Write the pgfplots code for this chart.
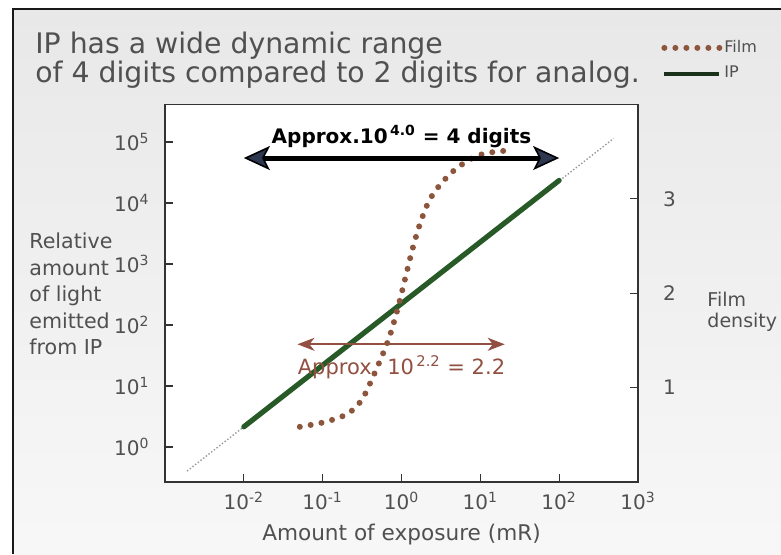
\documentclass[border=0pt]{standalone}
\usepackage{fontspec}
\setmainfont{DejaVu Sans}
\usepackage{pgfplots}
\pgfplotsset{compat=1.18}
\usetikzlibrary{arrows.meta}
\definecolor{ipgreen}{RGB}{40,90,40}
\definecolor{ipleg}{RGB}{25,50,25}
\definecolor{filmbrown}{RGB}{140,85,60}
\definecolor{arrbrown}{RGB}{145,80,65}
\definecolor{txtgray}{RGB}{80,80,80}
\definecolor{headfill}{RGB}{45,55,80}
\begin{document}
\begin{tikzpicture}
\useasboundingbox (0pt,0pt) rectangle (390.5pt,277pt);
\fill[white] (0pt,0pt) rectangle (390.5pt,277pt);
\shade[top color=black!9, bottom color=black!3] (6.5pt,0pt) rectangle (390.5pt,272.5pt);
\draw[black!90, line width=1.2pt] (6.5pt,0pt) -- (6.5pt,272.5pt) -- (390.5pt,272.5pt);
\node[anchor=base west, inner sep=0pt, text=txtgray, font=\fontsize{14.15}{14.5}\selectfont] at (17.5pt,250.5pt) {IP has a wide dynamic range};
\node[anchor=base west, inner sep=0pt, text=txtgray, font=\fontsize{14.15}{14.5}\selectfont] at (17.5pt,236pt) {of 4 digits compared to 2 digits for analog.};

\begin{axis}[
  at={(82.5pt,36pt)}, anchor=south west, scale only axis,
  width=236.5pt, height=188.75pt,
  xmode=log, ymode=log,
  xmin=1e-3, xmax=1e3, ymin=0.266, ymax=412000,
  axis background/.style={fill=white},
  axis line style={black!80, line width=0.75pt},
  tick style={black!80, line width=0.6pt},
  major tick length=4pt, minor tick length=0pt,
  tick align=inside,
  xtick pos=left, ytick pos=left,
  xtick={1e-2,1e-1,1,1e1,1e2,1e3},
  xticklabels={10\textsuperscript{-2},10\textsuperscript{-1},10\textsuperscript{0},10\textsuperscript{1},10\textsuperscript{2},10\textsuperscript{3}},
  ytick={1,10,100,1e3,1e4,1e5},
  yticklabels={10\textsuperscript{0},10\textsuperscript{1},10\textsuperscript{2},10\textsuperscript{3},10\textsuperscript{4},10\textsuperscript{5}},
  ticklabel style={text=txtgray, font=\fontsize{10}{12}\selectfont},
  yticklabel style={xshift=-4.2pt},
  xticklabel style={yshift=-1.5pt},
  xlabel={Amount of exposure (mR)},
  xlabel style={at={(axis description cs:0.5,0)}, anchor=base, yshift=-29pt, text=txtgray, font=\fontsize{10.8}{12}\selectfont, inner sep=0pt},
  ylabel={Relative\\amount\\of light\\emitted\\from IP},
  ylabel style={rotate=-90, at={(axis description cs:-0.2875,0.66)}, anchor=north west, align=left, inner sep=0pt, text=txtgray, font=\fontsize{10.3}{13.25}\selectfont},
]
\addplot[gray!80, densely dotted, line width=0.7pt] coordinates {(0.001905,0.402) (489.8,114000)};
\addplot[ipgreen, line width=2.6pt, line cap=round] coordinates {(0.01,2.138) (100,23442)};
\addplot[arrbrown, line width=1pt, {Stealth[length=8.5pt,width=6.5pt,inset=2.5pt]}-{Stealth[length=8.5pt,width=6.5pt,inset=2.5pt]}] coordinates {(0.0479,48.2) (20.4,48.2)};
\node[anchor=base, text=arrbrown, font=\fontsize{10.5}{12}\selectfont] at (axis cs:1,15.7) {Approx. 10\textsuperscript{\,2.2} = 2.2};
\end{axis}

\begin{axis}[
  at={(82.5pt,36pt)}, anchor=south west, scale only axis,
  width=236.5pt, height=188.75pt,
  xmode=log, xmin=1e-3, xmax=1e3, ymin=0, ymax=4,
  hide x axis,
  axis line style={black!80, line width=0.75pt},
  tick style={black!80, line width=0.6pt},
  major tick length=4pt, tick align=inside,
  ytick={1,2,3}, yticklabels={1,2,3}, ytick pos=right, yticklabel pos=right,
  ticklabel style={text=txtgray, font=\fontsize{10}{12}\selectfont},
  yticklabel style={xshift=9pt},
  ylabel={Film\\density},
  ylabel style={rotate=-90, at={(axis description cs:1.146,0.505)}, anchor=north west, align=left, inner sep=0pt, text=txtgray, font=\fontsize{9.5}{10.5}\selectfont},
  legend style={at={(axis description cs:1.0486,1.1764)}, anchor=north west, draw=none, fill=none, inner sep=0pt, row sep=3.4pt, nodes={inner sep=1pt, text=txtgray}, font=\fontsize{8}{9}\selectfont},
  legend cell align=left,
  legend image code/.code={\draw[#1] (0pt,0pt) -- (27.5pt,0pt);},
]
\addplot[filmbrown, line width=3pt, line cap=round, dash pattern=on 0pt off 5.5pt, smooth] coordinates {
(0.0513,0.585) (0.1,0.63) (0.182,0.70) (0.263,0.79) (0.339,0.92) (0.417,1.08)
(0.537,1.29) (0.692,1.52) (0.871,1.80) (1.072,2.10) (1.380,2.47) (1.738,2.75)
(2.239,2.98) (3.02,3.14) (4.467,3.29) (7.079,3.41) (11.22,3.48) (20.42,3.51)};
\addlegendentry{Film}
\addlegendimage{ipleg, line width=2pt}
\addlegendentry{IP}
\addplot[forget plot, black, line width=2.5pt, {Stealth[length=13pt,width=12pt,inset=3pt,fill=headfill,line width=0.8pt]}-{Stealth[length=13pt,width=12pt,inset=3pt,fill=headfill,line width=0.8pt]}] coordinates {(0.01,3.433) (100,3.433)};
\node[anchor=base, font=\bfseries\fontsize{10}{12}\selectfont] at (axis cs:1,3.592) {Approx.10\textsuperscript{\,4.0} = 4 digits};
\end{axis}
\end{tikzpicture}
\end{document}
